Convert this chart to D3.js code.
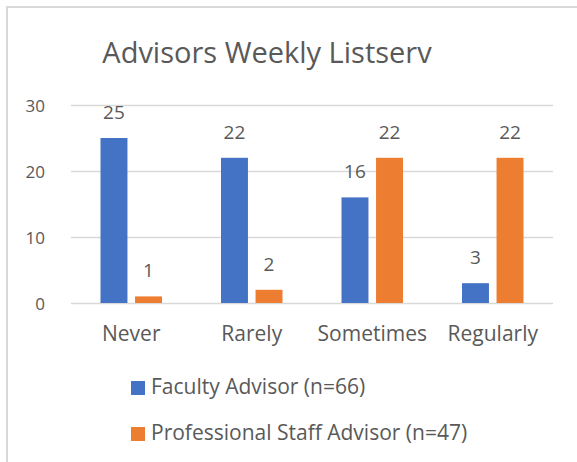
<!DOCTYPE html>
<html>
<head>
<meta charset="utf-8">
<script src="https://cdn.jsdelivr.net/npm/d3@7"></script>
<style>
  html, body { margin: 0; padding: 0; background: #fff; }
  svg { display: block; }
  text { font-family: "Open Sans", "Noto Sans", sans-serif; fill: #595959; }
</style>
</head>
<body>
<script>
const title = "Advisors Weekly Listserv";
const categories = ["Never", "Rarely", "Sometimes", "Regularly"];
const seriesNames = ["Faculty Advisor (n=66)", "Professional Staff Advisor (n=47)"];
const facultyValues = [25, 22, 16, 3];
const staffValues = [1, 2, 22, 22];
const yTicks = [0, 10, 20, 30];
const colors = ["#4472C4", "#ED7D31"];

const W = 577, H = 462;
const svg = d3.select("body").append("svg").attr("width", W).attr("height", H);

// chart border (left and top visible)
svg.append("line").attr("x1", 7).attr("x2", 7).attr("y1", 7).attr("y2", H)
  .attr("stroke", "#d9d9d9").attr("stroke-width", 2);
svg.append("line").attr("x1", 6).attr("x2", W).attr("y1", 7).attr("y2", 7)
  .attr("stroke", "#d9d9d9").attr("stroke-width", 2);

const plot = { left: 71, right: 553, top: 105, bottom: 303 };

const x0 = d3.scaleBand().domain(categories).range([plot.left, plot.right]).paddingInner(0).paddingOuter(0);
const x1 = d3.scaleBand().domain([0, 1]).range([-30.75, 30.75]).paddingInner(0.22).paddingOuter(0);
const y = d3.scaleLinear().domain([0, 30]).range([plot.bottom, plot.top]);

// gridlines
svg.append("g").selectAll("line").data(yTicks).join("line")
  .attr("x1", plot.left).attr("x2", plot.right)
  .attr("y1", d => y(d) + 0.5).attr("y2", d => y(d) + 0.5)
  .attr("stroke", "#d9d9d9").attr("stroke-width", 1.3);

// y axis labels
const yAxis = d3.axisLeft(y).tickValues(yTicks).tickSize(0).tickPadding(0).tickFormat(d3.format("d"));
const gy = svg.append("g").attr("transform", `translate(45,0)`).call(yAxis);
gy.select(".domain").remove();
gy.selectAll("text").style("font-size", "17px").attr("fill", "#595959").attr("dy", "0.36em");

// x axis labels
const xAxis = d3.axisBottom(x0).tickSize(0).tickPadding(0);
const gx = svg.append("g").attr("transform", `translate(0,341)`).call(xAxis);
gx.select(".domain").remove();
gx.selectAll("text").style("font-size", "21px").attr("fill", "#595959").attr("y", 0).attr("dy", "0");

const series = [facultyValues, staffValues];
series.forEach((vals, si) => {
  const g = svg.append("g");
  g.selectAll("rect").data(categories).join("rect")
    .attr("x", c => x0(c) + x0.bandwidth() / 2 + x1(si))
    .attr("width", x1.bandwidth())
    .attr("y", (c, i) => y(vals[i]))
    .attr("height", (c, i) => y(0) - y(vals[i]))
    .attr("fill", colors[si]);
  g.selectAll("text").data(categories).join("text")
    .attr("x", c => x0(c) + x0.bandwidth() / 2 + x1(si) + x1.bandwidth() / 2)
    .attr("y", (c, i) => y(vals[i]) - 19)
    .attr("text-anchor", "middle")
    .style("font-size", "19px")
    .text((c, i) => vals[i]);
});

// title
svg.append("text").attr("x", 267).attr("y", 63).attr("text-anchor", "middle")
  .style("font-size", "29px").text(title);

// legend
const lg = svg.append("g");
seriesNames.forEach((name, i) => {
  const yy = 381 + i * 46;
  lg.append("rect").attr("x", 131).attr("y", yy).attr("width", 14).attr("height", 14).attr("fill", colors[i]);
  lg.append("text").attr("x", 151).attr("y", yy + 13).style("font-size", "21px").text(name);
});
</script>
</body>
</html>
